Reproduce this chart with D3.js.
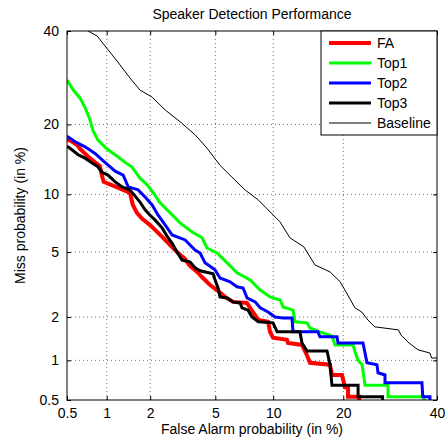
<!DOCTYPE html>
<html>
<head>
<meta charset="utf-8">
<script src="https://cdn.jsdelivr.net/npm/d3@7"></script>
<style>
  body { margin: 0; background: #fff; }
  text { font-family: "Liberation Sans", Arial, sans-serif; }
</style>
</head>
<body>
<div id="chart"></div>
<script>
// axis ticks (percent)
const tickValues = [0.5, 1, 2, 5, 10, 20, 40];
const tickLabels = ["0.5", "1", "2", "5", "10", "20", "40"];

// DET curves: [false alarm %, miss %]
const faCurve = [[0.5,17.5],[0.55,17.1],[0.6,16.6],[0.63,16.0],[0.73,14.8],[0.82,14.0],[0.89,13.5],[0.92,12.3],[0.95,11.45],[1.11,11.0],[1.31,10.5],[1.46,10.16],[1.53,8.88],[1.63,8.1],[1.77,7.55],[1.99,7.03],[2.22,6.45],[2.43,5.99],[2.69,5.47],[3.01,4.94],[3.29,4.62],[3.56,4.17],[3.93,3.84],[4.25,3.53],[4.67,3.2],[5.11,2.98],[5.66,2.7],[6.26,2.51],[7.41,2.47],[7.68,2.3],[8.15,2.06],[8.45,1.91],[9.45,1.86],[9.66,1.59],[9.98,1.45],[11.6,1.4],[11.73,1.33],[13.55,1.29],[14.24,1.09],[14.67,0.96],[17.75,0.93],[18.07,0.78],[19.78,0.78],[20.3,0.63],[20.85,0.63],[20.85,0.53],[22.9,0.53],[22.9,0.3]];
const top1Curve = [[0.5,28.7],[0.56,26.6],[0.63,25.0],[0.69,23.1],[0.75,20.9],[0.79,19.0],[0.86,17.4],[1.0,16.0],[1.15,15.1],[1.35,14.0],[1.5,13.4],[1.71,11.9],[1.91,11.1],[2.09,10.2],[2.32,9.1],[2.69,8.1],[3.1,7.2],[3.67,6.45],[4.2,6.0],[4.48,5.27],[5.11,4.94],[5.81,4.34],[6.57,3.79],[7.68,3.44],[8.64,2.98],[9.66,2.7],[10.78,2.58],[11.13,2.33],[12.36,2.22],[12.62,1.86],[14.24,1.83],[14.67,1.69],[16.16,1.59],[18.07,1.49],[18.58,1.29],[21.76,1.29],[22.13,1.15],[22.7,1.0],[23.47,0.93],[24.04,0.65],[28.74,0.65],[28.74,0.53],[36.9,0.53],[36.9,0.3]];
const top2Curve = [[0.5,18.0],[0.58,17.1],[0.69,16.3],[0.82,15.3],[0.97,14.0],[1.15,12.8],[1.31,12.3],[1.42,10.85],[1.66,10.5],[1.85,9.72],[2.06,8.88],[2.25,7.91],[2.5,7.03],[2.77,6.21],[3.33,5.84],[3.82,5.14],[4.09,4.94],[4.37,4.34],[4.98,3.95],[5.31,3.53],[6.03,3.35],[6.57,3.12],[7.07,3.07],[7.41,2.66],[8.15,2.51],[8.64,2.3],[9.45,2.16],[10.2,2.0],[11.13,1.97],[12.23,1.97],[12.36,1.59],[15.85,1.59],[16.16,1.47],[18.92,1.47],[19.09,1.33],[23.64,1.33],[24.04,1.13],[24.42,0.96],[26.42,0.93],[26.65,0.81],[28.1,0.78],[28.1,0.68],[36.4,0.68],[36.6,0.53],[38.3,0.53],[38.3,0.3]];
const top3Curve = [[0.5,16.4],[0.55,15.8],[0.61,15.1],[0.69,14.6],[0.78,13.9],[0.86,13.4],[0.92,12.7],[1.02,12.3],[1.15,11.45],[1.29,10.85],[1.46,10.5],[1.58,9.83],[1.71,9.18],[1.85,8.39],[1.99,7.91],[2.15,7.46],[2.39,6.78],[2.57,6.13],[2.77,5.6],[2.97,5.0],[3.19,4.5],[3.56,4.4],[3.82,4.06],[4.09,3.9],[4.86,3.74],[4.98,3.44],[5.18,3.07],[5.31,2.7],[5.81,2.66],[6.26,2.51],[6.82,2.47],[6.98,2.3],[7.5,2.22],[7.86,2.0],[8.45,1.86],[9.98,1.83],[10.44,1.59],[13.27,1.59],[13.55,1.33],[14.24,1.17],[17.27,1.17],[17.75,0.93],[18.07,0.65],[22.7,0.65],[22.7,0.53],[27.6,0.53],[27.6,0.3]];
const baselineCurve = [[0.727,40],[0.85,38.8],[1.0,35.9],[1.2,32.7],[1.46,29.15],[1.71,26.6],[2.06,25.16],[2.5,22.66],[3.1,20.5],[3.82,18.24],[4.48,16.1],[5.31,13.6],[6.4,11.68],[7.24,10.5],[8.45,9.4],[9.45,8.39],[10.78,7.28],[11.98,5.99],[13.8,5.35],[15.4,4.22],[17.75,3.84],[19.45,3.35],[21.2,2.62],[22.1,2.3],[23.4,2.16],[24.6,1.91],[26.0,1.72],[31.0,1.64],[31.6,1.51],[33.4,1.33],[35.5,1.19],[38.3,1.13],[38.7,1.04],[40,1.04]];

const series = [
  { name: "FA", values: faCurve, color: "#ff0000", width: 4 },
  { name: "Top1", values: top1Curve, color: "#00ff00", width: 3 },
  { name: "Top2", values: top2Curve, color: "#0000ff", width: 3 },
  { name: "Top3", values: top3Curve, color: "#000000", width: 3 },
  { name: "Baseline", values: baselineCurve, color: "#000000", width: 1 }
];

// inverse normal CDF (Acklam)
function probit(p) {
  const a = [-3.969683028665376e+01, 2.209460984245205e+02, -2.759285104469687e+02, 1.383577518672690e+02, -3.066479806614716e+01, 2.506628277459239e+00];
  const b = [-5.447609879822406e+01, 1.615858368580409e+02, -1.556989798598866e+02, 6.680131188771972e+01, -1.328068155288572e+01];
  const c = [-7.784894002430293e-03, -3.223964580411365e-01, -2.400758277161838e+00, -2.549732539343734e+00, 4.374664141464968e+00, 2.938163982698783e+00];
  const d = [7.784695709041462e-03, 3.224671290700398e-01, 2.445134137142996e+00, 3.754408661907416e+00];
  const pl = 0.02425;
  let q, r;
  if (p < pl) {
    q = Math.sqrt(-2 * Math.log(p));
    return (((((c[0]*q+c[1])*q+c[2])*q+c[3])*q+c[4])*q+c[5]) / ((((d[0]*q+d[1])*q+d[2])*q+d[3])*q+1);
  } else if (p <= 1 - pl) {
    q = p - 0.5; r = q * q;
    return (((((a[0]*r+a[1])*r+a[2])*r+a[3])*r+a[4])*r+a[5])*q / (((((b[0]*r+b[1])*r+b[2])*r+b[3])*r+b[4])*r+1);
  }
  q = Math.sqrt(-2 * Math.log(1 - p));
  return -(((((c[0]*q+c[1])*q+c[2])*q+c[3])*q+c[4])*q+c[5]) / ((((d[0]*q+d[1])*q+d[2])*q+d[3])*q+1);
}
const dev = v => probit(v / 100);

const margin = { top: 31, right: 8, bottom: 39, left: 67 };
const width = 445 - margin.left - margin.right;
const height = 439 - margin.top - margin.bottom;

const svgRoot = d3.select("#chart")
  .append("svg")
  .attr("width", 445)
  .attr("height", 439)
  .style("background", "#fff");

const svg = svgRoot.append("g").attr("transform", `translate(${margin.left},${margin.top})`);

const x = d3.scaleLinear().domain([dev(0.5), dev(40)]).range([0, width]);
const y = d3.scaleLinear().domain([dev(0.5), dev(40)]).range([height, 0]);

svg.append("rect").attr("width", width).attr("height", height).attr("fill", "#fff");

// grid
const inner = tickValues.slice(1, -1);
svg.append("g").selectAll("line")
  .data(inner)
  .join("line")
  .attr("x1", d => x(dev(d))).attr("x2", d => x(dev(d)))
  .attr("y1", 0).attr("y2", height)
  .attr("stroke", "#333").attr("stroke-width", 0.7).attr("stroke-dasharray", "1,3");
svg.append("g").selectAll("line")
  .data(inner)
  .join("line")
  .attr("y1", d => y(dev(d))).attr("y2", d => y(dev(d)))
  .attr("x1", 0).attr("x2", width)
  .attr("stroke", "#333").attr("stroke-width", 0.7).attr("stroke-dasharray", "1,3");

// curves
svg.append("clipPath").attr("id", "clip")
  .append("rect").attr("width", width).attr("height", height);

const line = d3.line()
  .x(d => x(dev(d[0])))
  .y(d => y(dev(d[1])));

const content = svg.append("g").attr("clip-path", "url(#clip)");
series.forEach(s => {
  content.append("path")
    .datum(s.values)
    .attr("fill", "none")
    .attr("stroke", s.color)
    .attr("stroke-width", s.width)
    .attr("stroke-linejoin", "miter")
    .attr("d", line);
});

// axes
const fmt = (d, i) => tickLabels[i];
const xTicks = tickValues.map(dev);

const xAxisG = svg.append("g").attr("transform", `translate(0,${height})`)
  .call(d3.axisBottom(x).tickValues(xTicks).tickFormat(fmt).tickSize(-4).tickPadding(8));
const yAxisG = svg.append("g")
  .call(d3.axisLeft(y).tickValues(xTicks).tickFormat(fmt).tickSize(-4).tickPadding(8));
const xTopG = svg.append("g")
  .call(d3.axisTop(x).tickValues(xTicks).tickFormat("").tickSize(-4));
const yRightG = svg.append("g").attr("transform", `translate(${width},0)`)
  .call(d3.axisRight(y).tickValues(xTicks).tickFormat("").tickSize(-4));

[xAxisG, yAxisG, xTopG, yRightG].forEach(g => {
  g.select(".domain").remove();
  g.selectAll("text").attr("fill", "#000").style("font-size", "14px")
    .style("font-family", "'Liberation Sans', Arial, sans-serif");
  g.selectAll("line").attr("stroke", "#000");
});

svg.append("rect")
  .attr("width", width).attr("height", height)
  .attr("fill", "none").attr("stroke", "#000").attr("stroke-width", 1);

// title and labels
svg.append("text")
  .attr("x", width / 2).attr("y", -12)
  .attr("text-anchor", "middle")
  .style("font-size", "14px")
  .text("Speaker Detection Performance");

svg.append("text")
  .attr("x", width / 2).attr("y", height + 34)
  .attr("text-anchor", "middle")
  .style("font-size", "14px")
  .text("False Alarm probability (in %)");

svg.append("text")
  .attr("transform", `translate(${-42},${height / 2}) rotate(-90)`)
  .attr("text-anchor", "middle")
  .style("font-size", "14px")
  .text("Miss probability (in %)");

// legend
const legend = svg.append("g").attr("transform", `translate(${width - 116},0)`);
legend.append("rect")
  .attr("width", 116).attr("height", 104)
  .attr("fill", "#fff").attr("stroke", "#000").attr("stroke-width", 1);

const item = legend.selectAll("g.item")
  .data(series)
  .join("g")
  .attr("class", "item")
  .attr("transform", (_, i) => `translate(0,${12 + i * 20})`);

item.append("line")
  .attr("x1", 8).attr("x2", 50)
  .attr("stroke", d => d.color)
  .attr("stroke-width", d => d.width);

item.append("text")
  .attr("x", 56).attr("y", 5)
  .style("font-size", "14px")
  .text(d => d.name);
</script>
</body>
</html>
